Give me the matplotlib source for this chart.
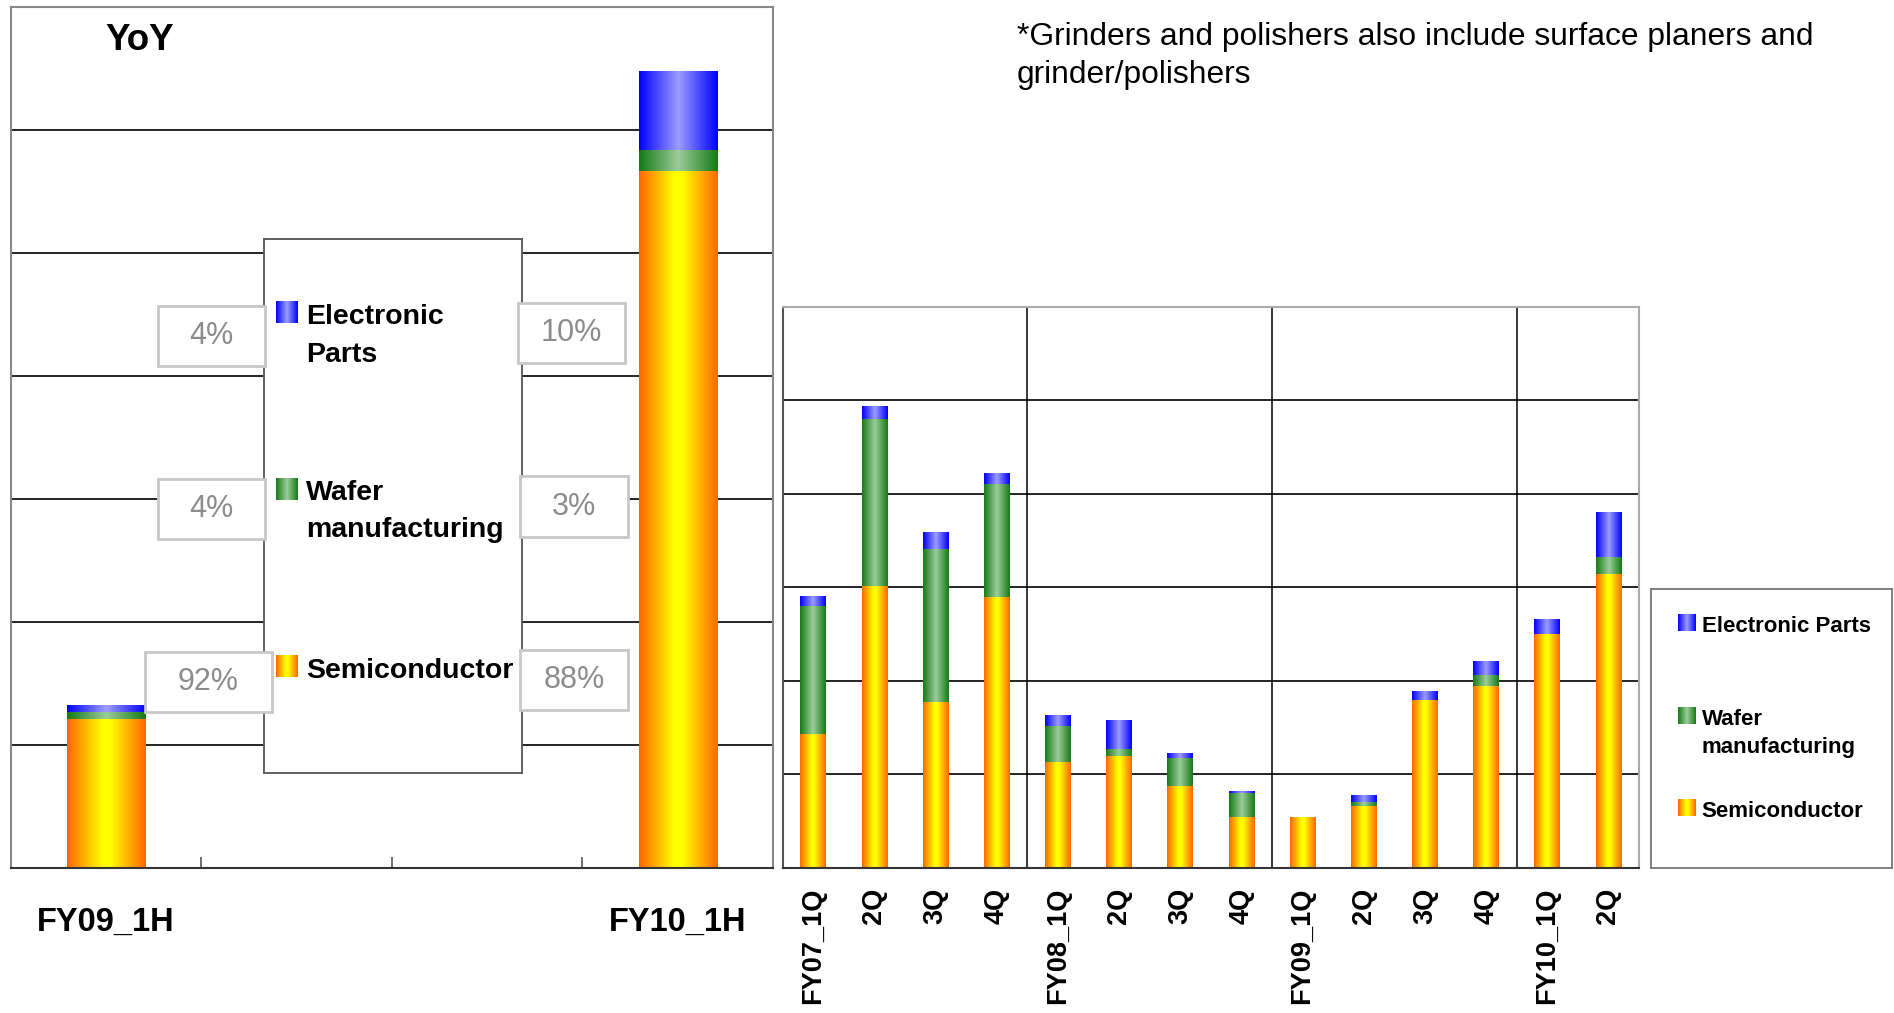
import numpy as np
import matplotlib
matplotlib.use('Agg')
import matplotlib.pyplot as plt
from matplotlib.colors import LinearSegmentedColormap
from matplotlib.patches import Rectangle

# half-year comparison (left panel), units = gridline steps
half_labels = ['FY09_1H', 'FY10_1H']
half_semi = [1.215, 5.67]
half_wafer = [0.053, 0.17]
half_elec = [0.053, 0.64]
share_elec = ['4%', '10%']
share_wafer = ['4%', '3%']
share_semi = ['92%', '88%']

# quarterly (right panel)
quarter_labels = ['FY07_1Q', '2Q', '3Q', '4Q', 'FY08_1Q', '2Q', '3Q', '4Q',
                  'FY09_1Q', '2Q', '3Q', '4Q', 'FY10_1Q', '2Q']
q_semi = [1.43, 3.01, 1.78, 2.90, 1.135, 1.20, 0.877, 0.545, 0.545, 0.664, 1.80, 1.95, 2.50, 3.14]
q_wafer = [1.37, 1.79, 1.63, 1.20, 0.385, 0.07, 0.30, 0.255, 0.0, 0.04, 0.0, 0.11, 0.0, 0.18]
q_elec = [0.10, 0.13, 0.18, 0.11, 0.11, 0.30, 0.05, 0.02, 0.0, 0.065, 0.09, 0.14, 0.16, 0.48]

SANS = ['Liberation Sans', 'DejaVu Sans']

cm_semi = LinearSegmentedColormap.from_list('semi', [(0, '#ff6600'), (0.45, '#ffff00'), (0.55, '#ffff00'), (1, '#ff6600')])
cm_wafer = LinearSegmentedColormap.from_list('wafer', [(0, '#157a15'), (0.5, '#9ccc9c'), (1, '#157a15')])
cm_elec = LinearSegmentedColormap.from_list('elec', [(0, '#0000ff'), (0.5, '#9c9cff'), (1, '#0000ff')])
GRAD = np.linspace(0, 1, 256).reshape(1, -1)


def gradient_bars(ax, x, heights, bottoms, width, cmap):
    bars = ax.bar(x, heights, width, bottom=bottoms, color='none', edgecolor='none', zorder=2)
    for b in bars:
        if b.get_height() <= 0:
            continue
        x0, y0 = b.get_x(), b.get_y()
        ax.imshow(GRAD, cmap=cmap, aspect='auto', interpolation='bilinear',
                  extent=(x0, x0 + b.get_width(), y0, y0 + b.get_height()), zorder=2)
    return bars


def draw_legend(rect, names, cmaps, sw_x, sw_w, sw_yc, sw_h, text_x, bases, step, fs, ec):
    lax = fig.add_axes(rect, zorder=1)
    lax.set_facecolor('white')
    for nm, cm, yc, yb in zip(names, cmaps, sw_yc, bases):
        lax.imshow(GRAD, cmap=cm, aspect='auto', extent=(sw_x, sw_x + sw_w, yc - sw_h / 2, yc + sw_h / 2))
        for i, line in enumerate(nm.split('\n')):
            lax.text(text_x, yb - i * step, line, va='baseline', ha='left', fontsize=fs,
                     family=SANS, fontweight='bold')
    lax.set_xlim(0, 1)
    lax.set_ylim(0, 1)
    lax.set_xticks([])
    lax.set_yticks([])
    for s in lax.spines.values():
        s.set_color(ec)
        s.set_linewidth(1.3)
    return lax


fig = plt.figure(figsize=(18.94, 10.13), dpi=100)

# ---------------- left panel ----------------
axL = fig.add_axes([0.00575, 0.1431, 0.4024, 0.8497])
slots = np.arange(4)
hx = slots[[0, -1]]
hw = 0.41
gradient_bars(axL, hx, half_semi, 0, hw, cm_semi)
b2 = np.array(half_semi)
gradient_bars(axL, hx, half_wafer, b2, hw, cm_wafer)
b3 = b2 + np.array(half_wafer)
gradient_bars(axL, hx, half_elec, b3, hw, cm_elec)
axL.set_xlim(-0.5, 3.5)
axL.set_ylim(0, 7)
axL.set_yticks(np.arange(1, 7))
axL.set_yticklabels([])
axL.tick_params(axis='y', length=0)
axL.grid(axis='y', color='black', lw=1.2)
axL.set_axisbelow(True)
axL.set_xticks(hx)
axL.set_xticklabels(half_labels, fontsize=23.5, fontweight='bold', family=SANS)
axL.tick_params(axis='x', which='major', length=0, pad=28)
axL.set_xticks(slots[:-1] + 0.5, minor=True)
axL.tick_params(axis='x', which='minor', direction='in', length=8, width=1.2, color='#555')
for s in axL.spines.values():
    s.set_color('#888')
    s.set_linewidth(1.5)
axL.spines['bottom'].set_color('#333')

# ---------------- right panel ----------------
axR = fig.add_axes([0.4132, 0.1431, 0.4522, 0.5541])
qx = np.arange(len(quarter_labels))
qw = 0.42
gradient_bars(axR, qx, q_semi, 0, qw, cm_semi)
qb2 = np.array(q_semi)
gradient_bars(axR, qx, q_wafer, qb2, qw, cm_wafer)
qb3 = qb2 + np.array(q_wafer)
gradient_bars(axR, qx, q_elec, qb3, qw, cm_elec)
for i, lab in enumerate(quarter_labels):
    if lab.startswith('FY') and i > 0:
        axR.axvline(i - 0.5, color='black', lw=1.1, zorder=1)
axR.set_xlim(-0.5, len(quarter_labels) - 0.5)
axR.set_ylim(0, 6)
axR.set_yticks(np.arange(1, 6))
axR.set_yticklabels([])
axR.tick_params(axis='y', length=0)
axR.grid(axis='y', color='black', lw=1.2)
axR.set_axisbelow(True)
axR.set_xticks(qx)
axR.set_xticklabels(quarter_labels, rotation=90, fontsize=19.5, fontweight='bold', family=SANS)
axR.tick_params(axis='x', length=0, pad=14)
for s in axR.spines.values():
    s.set_color('#aaa')
    s.set_linewidth(1.5)
axR.spines['left'].set_color('#555')
axR.spines['bottom'].set_color('#333')

cmaps = [cm_elec, cm_wafer, cm_semi]

# legend inside the left panel
draw_legend([0.1394, 0.2369, 0.1364, 0.5271],
            ['Electronic\nParts', 'Wafer\nmanufacturing', 'Semiconductor'], cmaps,
            0.0465, 0.0832, [0.8639, 0.5325, 0.1997], 0.0412, 0.1626,
            [0.8403, 0.5112, 0.1773], 0.0701, 20.5, '#555')

# legend on the right
draw_legend([0.8715, 0.1431, 0.1272, 0.2754],
            ['Electronic Parts', 'Wafer\nmanufacturing', 'Semiconductor'], cmaps,
            0.112, 0.072, [0.878, 0.5448, 0.215], 0.0574, 0.2116,
            [0.847, 0.5125, 0.1839], 0.1005, 16, '#777')

# share boxes (left axes fraction)
share_boxes = [
    (share_elec[0], 0.1930, 0.5835, 0.3335, 0.6532),
    (share_elec[1], 0.6651, 0.5870, 0.8059, 0.6560),
    (share_wafer[0], 0.1930, 0.3822, 0.3335, 0.4523),
    (share_wafer[1], 0.6681, 0.3848, 0.8098, 0.4552),
    (share_semi[0], 0.1766, 0.1812, 0.3420, 0.2509),
    (share_semi[1], 0.6681, 0.1838, 0.8098, 0.2534),
]
for txt, x0, y0, x1, y1 in share_boxes:
    fig.add_artist(Rectangle((x0, y0), x1 - x0, y1 - y0, transform=axL.transAxes,
                             facecolor='white', edgecolor='#c8c8c8', lw=2, zorder=2))
    fig.text((x0 + x1) / 2, (y0 + y1) / 2, txt, transform=axL.transAxes, ha='center', va='center',
             fontsize=22, color='#8c8c8c', family=SANS, zorder=3)

fig.text(0.0554, 0.9506, 'YoY', fontsize=26.5, fontweight='bold', family=SANS, va='baseline')
fig.text(0.5368, 0.9556, '*Grinders and polishers also include surface planers and',
         fontsize=22.9, family=SANS, va='baseline')
fig.text(0.5368, 0.9184, 'grinder/polishers', fontsize=22.9, family=SANS, va='baseline')

fig.savefig('out.png', dpi=100)
